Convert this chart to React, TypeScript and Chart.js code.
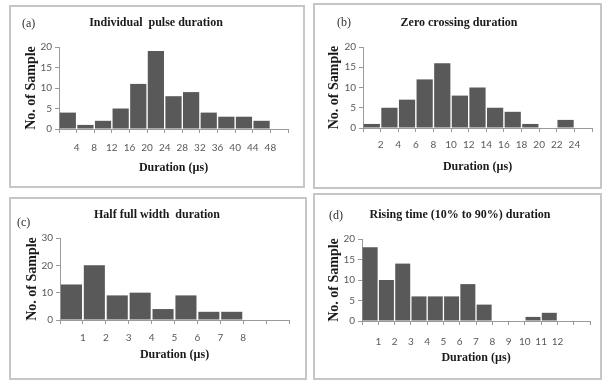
import React, { useEffect, useRef } from 'react';
import { Chart, registerables } from 'chart.js';

Chart.register(...registerables);

// ---- data ----
const pulseBinEnds = [4, 8, 12, 16, 20, 24, 28, 32, 36, 40, 44, 48];
const pulseCounts = [4, 1, 2, 5, 11, 19, 8, 9, 4, 3, 3, 2];
const pulseBinWidth = 4;
const pulseAxisMax = 52;

const zeroBinEnds = [2, 4, 6, 8, 10, 12, 14, 16, 18, 20, 22, 24];
const zeroCounts = [1, 5, 7, 12, 16, 8, 10, 5, 4, 1, 0, 2];
const zeroBinWidth = 2;
const zeroAxisMax = 26;

const halfBinEnds = [1, 2, 3, 4, 5, 6, 7, 8];
const halfCounts = [13, 20, 9, 10, 4, 9, 3, 3];
const halfBinWidth = 1;
const halfAxisMax = 10;

const riseBinEnds = [1, 2, 3, 4, 5, 6, 7, 8, 9, 10, 11, 12];
const riseCounts = [18, 10, 14, 6, 6, 6, 9, 4, 0, 0, 1, 2];
const riseBinWidth = 1;
const riseAxisMax = 14;

const yLabel = 'No. of Sample';
const xLabel = 'Duration (µs)';

type Spec = {
  tag: string;
  title: string;
  ends: number[];
  counts: number[];
  binWidth: number;
  xMax: number;
  yMax: number;
  yStep: number;
  box: number[];
  canvas: number[];
  plot: { left: number; right: number; top: number; bottom: number };
  titleY: number;
  yTitleX: number;
  xTitleY: number;
  tickPad: number;
  tagPos: number[];
};

const specs: Spec[] = [
  {
    tag: '(a)', title: 'Individual  pulse duration',
    ends: pulseBinEnds, counts: pulseCounts, binWidth: pulseBinWidth, xMax: pulseAxisMax,
    yMax: 20, yStep: 5,
    box: [9, 5, 296, 183], canvas: [17, 5, 280, 183],
    plot: { left: 42, right: 278, top: 42, bottom: 124 },
    titleY: 18, yTitleX: 14, xTitleY: 163, tickPad: 9, tagPos: [22, 16],
  },
  {
    tag: '(b)', title: 'Zero crossing duration',
    ends: zeroBinEnds, counts: zeroCounts, binWidth: zeroBinWidth, xMax: zeroAxisMax,
    yMax: 20, yStep: 5,
    box: [313, 3, 289, 186], canvas: [321, 3, 278, 186],
    plot: { left: 42, right: 276, top: 44, bottom: 125 },
    titleY: 20, yTitleX: 13, xTitleY: 164, tickPad: 7, tagPos: [337, 15],
  },
  {
    tag: '(c)', title: 'Half full width  duration',
    ends: halfBinEnds, counts: halfCounts, binWidth: halfBinWidth, xMax: halfAxisMax,
    yMax: 30, yStep: 10,
    box: [9, 197, 298, 183], canvas: [19, 197, 278, 183],
    plot: { left: 41, right: 276, top: 41, bottom: 123 },
    titleY: 18, yTitleX: 13, xTitleY: 158, tickPad: 8, tagPos: [17, 215],
  },
  {
    tag: '(d)', title: 'Rising time (10% to 90%) duration',
    ends: riseBinEnds, counts: riseCounts, binWidth: riseBinWidth, xMax: riseAxisMax,
    yMax: 20, yStep: 5,
    box: [313, 193, 289, 187], canvas: [321, 193, 280, 187],
    plot: { left: 41, right: 278, top: 46, bottom: 128 },
    titleY: 22, yTitleX: 13, xTitleY: 165, tickPad: 11, tagPos: [329, 208],
  },
];

const AXIS = '#9a9a9a';
const TICK_TEXT = '#595959';
const BAR = '#595959';
const SERIF = '"Liberation Serif", "Times New Roman", serif';
const SANS = 'Lato, "Liberation Sans", sans-serif';

function Panel({ s }: { s: Spec }) {
  const ref = useRef<HTMLCanvasElement | null>(null);
  useEffect(() => {
    if (!ref.current) return;
    const [, , cw, ch] = s.canvas;
    const lh = 12 * 1.2;
    const ylh = 14 * 1.2;
    const data = s.ends.map((e, i) => ({ x: e - s.binWidth / 2, y: s.counts[i] }));
    const chart = new Chart(ref.current, {
      type: 'bar',
      data: {
        datasets: [
          {
            data,
            backgroundColor: BAR,
            borderWidth: 0,
            categoryPercentage: 0.92,
            barPercentage: 1,
          } as any,
        ],
      },
      options: {
        responsive: false,
        animation: false,
        devicePixelRatio: 1,
        layout: { padding: { left: 0, top: 0, bottom: 0, right: cw - s.plot.right } },
        plugins: {
          legend: { display: false },
          tooltip: { enabled: false },
          title: {
            display: true,
            text: s.title,
            color: '#1a1a1a',
            font: { family: SERIF, size: 12, weight: 'bold' },
            padding: { top: s.titleY - lh / 2, bottom: s.plot.top - s.titleY - lh / 2 },
          },
        },
        scales: {
          x: {
            type: 'linear',
            min: 0,
            max: s.xMax,
            offset: false,
            grid: {
              offset: false,
              drawOnChartArea: false,
              drawTicks: true,
              tickLength: 4,
              color: AXIS,
            },
            border: { display: true, color: AXIS, width: 1 },
            ticks: {
              stepSize: s.binWidth,
              autoSkip: false,
              maxRotation: 0,
              padding: s.tickPad,
              color: TICK_TEXT,
              font: { family: SANS, size: 10 },
              callback: (v: any) => (s.ends.includes(Number(v)) ? String(v) : ''),
            },
            title: {
              display: true,
              text: xLabel,
              color: '#1a1a1a',
              font: { family: SERIF, size: 12, weight: 'bold' },
              padding: { top: 0, bottom: ch - s.xTitleY - lh / 2 },
            },
            afterFit: (scale: any) => {
              scale.height = ch - s.plot.bottom;
            },
          } as any,
          y: {
            min: 0,
            max: s.yMax,
            grid: {
              drawOnChartArea: false,
              drawTicks: true,
              tickLength: 4,
              color: AXIS,
            },
            border: { display: true, color: AXIS, width: 1 },
            ticks: {
              stepSize: s.yStep,
              padding: 3,
              color: TICK_TEXT,
              font: { family: SANS, size: 10 },
            },
            title: {
              display: true,
              text: yLabel,
              color: '#1a1a1a',
              font: { family: SERIF, size: 14, weight: 'bold' },
              padding: { top: s.yTitleX - ylh / 2, bottom: 0 },
            },
            afterFit: (scale: any) => {
              scale.width = s.plot.left;
            },
          } as any,
        },
      },
    });
    return () => chart.destroy();
  }, [s]);

  const [bl, bt, bw, bh] = s.box;
  const [cl, ct, cw, ch] = s.canvas;
  return (
    <>
      <div
        style={{
          position: 'absolute',
          left: bl,
          top: bt,
          width: bw,
          height: bh,
          boxSizing: 'border-box',
          border: '2px solid #c6c6c6',
          background: '#fff',
        }}
      />
      <canvas
        ref={ref}
        width={cw}
        height={ch}
        style={{ position: 'absolute', left: cl, top: ct, width: cw, height: ch }}
      />
      <span
        style={{
          position: 'absolute',
          left: s.tagPos[0],
          top: s.tagPos[1],
          font: `12px ${SERIF}`,
          lineHeight: '14px',
          color: '#333',
          whiteSpace: 'nowrap',
        }}
      >
        {s.tag}
      </span>
    </>
  );
}

export default function App() {
  return (
    <div style={{ position: 'absolute', left: 0, top: 0, width: 605, height: 381, background: '#fff' }}>
      {specs.map((s) => (
        <Panel key={s.tag} s={s} />
      ))}
    </div>
  );
}
